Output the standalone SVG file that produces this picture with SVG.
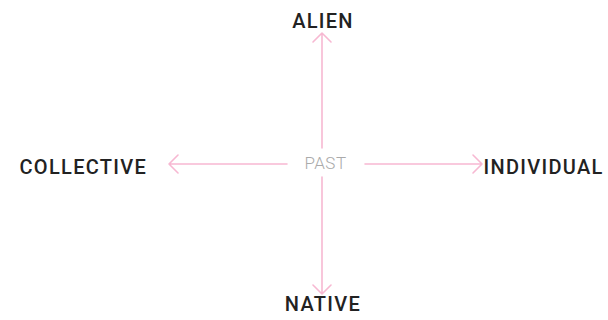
<svg xmlns="http://www.w3.org/2000/svg" width="608" height="320" viewBox="0 0 608 320">
<style>
.lbl{font-family:Roboto,"Liberation Sans",sans-serif;font-weight:500;font-size:20px;fill:#222;letter-spacing:1.3px}
.ctr{font-family:Roboto,"Liberation Sans",sans-serif;font-weight:300;font-size:17px;fill:#aaa;letter-spacing:0.5px}
.ln{stroke:#f7b8d2;stroke-width:1.6;fill:none;stroke-linecap:round;stroke-linejoin:round}
</style>
<rect width="608" height="320" fill="#fff"/>
<g id="connectors">
<path class="ln" d="M322 148 V33 M313 42 L322 33 L331 42"/>
<path class="ln" d="M322 177 V294 M313 285 L322 294 L331 285"/>
<path class="ln" d="M287 164 H169 M178 155 L169 164 L178 173"/>
<path class="ln" d="M365 164 H482 M473 155 L482 164 L473 173"/>
</g>
<g id="past"><text class="ctr" x="325.5" y="168.5" text-anchor="middle">PAST</text></g>
<g id="alien"><text class="lbl" x="323" y="27.5" text-anchor="middle">ALIEN</text></g>
<g id="native"><text class="lbl" x="323" y="310.5" text-anchor="middle">NATIVE</text></g>
<g id="collective"><text class="lbl" x="19.5" y="173.5">COLLECTIVE</text></g>
<g id="individual"><text class="lbl" x="483.5" y="173.5">INDIVIDUAL</text></g>
</svg>
